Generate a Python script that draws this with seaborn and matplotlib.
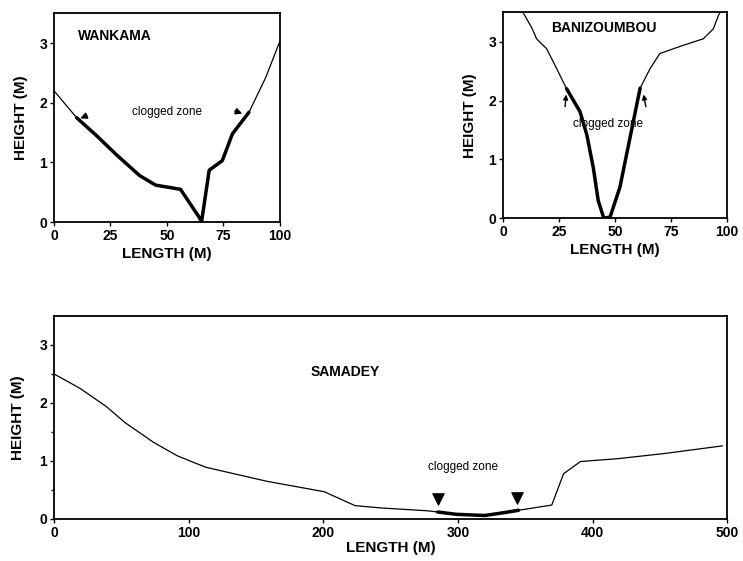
import matplotlib
matplotlib.use("Agg")
import matplotlib.pyplot as plt
import seaborn as sns
import numpy as np

# -------------------------------------------------
# DATA
# -------------------------------------------------
wankama_x = [0, 10, 18.8, 27.6, 37.9, 45, 56, 64.3, 65.3, 68.7, 74.5, 79, 86.3, 93.7, 100]
wankama_y = [2.2, 1.75, 1.45, 1.13, 0.78, 0.62, 0.55, 0.08, 0.0, 0.87, 1.03, 1.48, 1.84, 2.42, 3.03]
wankama_clog = (10, 86.3)

bani_x = [8, 9.8, 12.8, 15, 19.5, 24, 28.4, 34.4, 37.4, 40.3, 42.5, 45, 47.8, 52.2,
          55.2, 58.2, 61.2, 65.6, 70, 80.5, 89.4, 93.9, 96.1, 97.5]
bani_y = [3.55, 3.44, 3.24, 3.05, 2.88, 2.54, 2.2, 1.81, 1.42, 0.86, 0.3, 0.0, 0.02, 0.53,
          1.09, 1.65, 2.21, 2.54, 2.8, 2.94, 3.05, 3.22, 3.44, 3.55]
bani_clog = (28.4, 61.2)

samadey_x = [0, 19.4, 38.7, 52.8, 74, 91.5, 102, 113, 158, 200.7, 223.6, 243, 278, 285,
             299, 320, 334.5, 345, 369.7, 378.5, 391, 419, 454, 496.5]
samadey_y = [2.5, 2.25, 1.94, 1.66, 1.32, 1.09, 0.99, 0.89, 0.65, 0.47, 0.23, 0.19, 0.14, 0.12,
             0.08, 0.06, 0.11, 0.15, 0.24, 0.78, 0.99, 1.04, 1.13, 1.26]
samadey_clog = (285, 345)
samadey_marks_x = [285, 344]
samadey_marks_y = [0.34, 0.37]

top_xticks = [0, 25, 50, 75, 100]
bottom_xticks = [0, 100, 200, 300, 400, 500]
yticks = [0, 1, 2, 3]

# -------------------------------------------------
# STYLE
# -------------------------------------------------
sns.set_style("ticks")
plt.rcParams['font.family'] = ['Liberation Sans', 'DejaVu Sans']
plt.rcParams['text.color'] = 'black'
plt.rcParams['axes.labelcolor'] = 'black'
plt.rcParams['xtick.color'] = 'black'
plt.rcParams['ytick.color'] = 'black'


def perfil(ax, xs, ys, clog, xmax, xticks, xpad=3, ypad=8):
    xs = np.array(xs)
    ys = np.array(ys)
    sns.lineplot(x=xs, y=ys, ax=ax, color="black", lw=0.9, estimator=None, sort=False)
    mask = (xs >= clog[0]) & (xs <= clog[1])
    sns.lineplot(x=xs[mask], y=ys[mask], ax=ax, color="black", lw=2.5, estimator=None, sort=False)

    ax.set_xlim(0, xmax)
    ax.set_ylim(0, 3.5)
    ax.set_xticks(xticks)
    ax.set_yticks(yticks)
    ax.tick_params(direction="out", length=3, width=1, pad=2, labelsize=10)
    for lab in ax.get_xticklabels() + ax.get_yticklabels():
        lab.set_fontweight("bold")
    ax.set_xlabel("LENGTH (M)", fontsize=11, fontweight="bold", labelpad=xpad)
    ax.set_ylabel("HEIGHT (M)", fontsize=11, fontweight="bold", labelpad=ypad)
    for s in ax.spines.values():
        s.set_visible(True)
        s.set_linewidth(1.3)
        s.set_color("black")


fig = plt.figure(figsize=(7.43, 5.61), dpi=100)

ax1 = fig.add_axes([0.0727, 0.604, 0.304, 0.3725])
ax2 = fig.add_axes([0.677, 0.611, 0.3015, 0.367])
ax3 = fig.add_axes([0.0727, 0.0749, 0.906, 0.362])

# WANKAMA
perfil(ax1, wankama_x, wankama_y, wankama_clog, 100, top_xticks)
ax1.text(10.5, 3.12, "WANKAMA", fontsize=10, fontweight="bold", va="center")
ax1.text(50, 1.84, "clogged zone", fontsize=8.5, ha="center", va="center")
ax1.annotate("", xy=(10.5, 1.72), xytext=(15.5, 1.8),
             arrowprops=dict(arrowstyle="-|>", color="black", lw=1.2, mutation_scale=9))
ax1.annotate("", xy=(84.5, 1.8), xytext=(79, 1.88),
             arrowprops=dict(arrowstyle="-|>", color="black", lw=1.2, mutation_scale=9))

# BANIZOUMBOU
perfil(ax2, bani_x, bani_y, bani_clog, 100, top_xticks)
ax2.text(21.5, 3.24, "BANIZOUMBOU", fontsize=10, fontweight="bold", va="center")
ax2.text(47, 1.6, "clogged zone", fontsize=8.5, ha="center", va="center")
ax2.annotate("", xy=(28.3, 2.15), xytext=(27.6, 1.85),
             arrowprops=dict(arrowstyle="-|>", color="black", lw=1, mutation_scale=7))
ax2.annotate("", xy=(62.5, 2.15), xytext=(64, 1.85),
             arrowprops=dict(arrowstyle="-|>", color="black", lw=1, mutation_scale=7))

# SAMADEY
perfil(ax3, samadey_x, samadey_y, samadey_clog, 500, bottom_xticks, xpad=1, ypad=10)
ax3.set_yticks([0.5, 1.5, 2.5], minor=True)
ax3.tick_params(which="minor", direction="out", length=2, width=1)
ax3.text(216, 2.54, "SAMADEY", fontsize=10, fontweight="bold", ha="center", va="center")
ax3.text(304, 0.9, "clogged zone", fontsize=8.5, ha="center", va="center")
sns.scatterplot(x=samadey_marks_x, y=samadey_marks_y, ax=ax3, marker="v", s=70,
                color="black", edgecolor="black")

fig.savefig("out.png", dpi=100)
plt.close(fig)
